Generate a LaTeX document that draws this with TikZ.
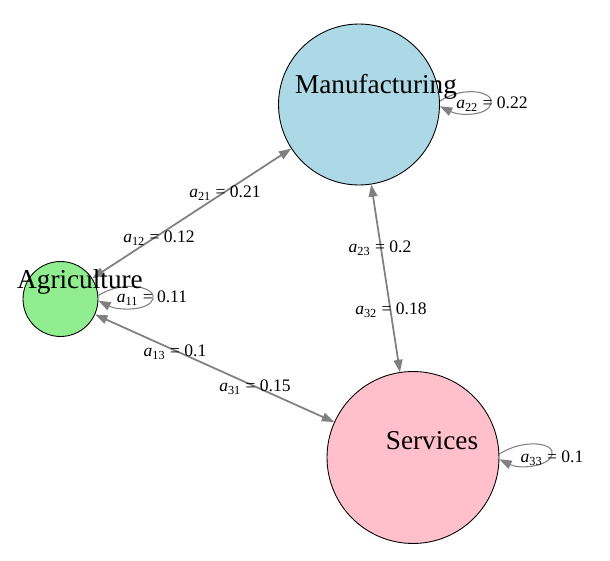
\documentclass[tikz,border=0pt]{standalone}
\usepackage{fontspec}
\setmainfont{Liberation Serif}
\usetikzlibrary{arrows.meta}
\definecolor{mfgblue}{HTML}{ADD8E6}
\definecolor{agrgreen}{HTML}{90EE90}
\definecolor{srvpink}{HTML}{FFC0CB}
\definecolor{edgegray}{HTML}{808080}
\newcommand{\coef}[2]{\textit{a}\textsubscript{#1} = #2}

\begin{document}
\begin{tikzpicture}[x=0.02cm, y=-0.02cm,
  sector/.style={circle, draw=black, line width=0.5pt, inner sep=0pt},
  sectorname/.style={font=\fontsize{15.5}{18}\selectfont, inner sep=0pt},
  coeflbl/.style={font=\fontsize{10}{12}\selectfont, inner sep=0pt},
  link/.style={draw=edgegray, line width=1pt, {Triangle[length=7pt,width=5pt]}-{Triangle[length=7pt,width=5pt]}},
  selfloop/.style={draw=edgegray, line width=0.6pt, -{Triangle[length=7pt,width=5pt]}}]
\useasboundingbox (0,0) rectangle (610,561);

% sectors
\node[sector, fill=mfgblue, minimum size=3.22cm] (man) at (359,104.5) {};
\node[sector, fill=agrgreen, minimum size=1.5cm] (agr) at (60.5,299) {};
\node[sector, fill=srvpink, minimum size=3.44cm] (ser) at (413,457.5) {};

% flows between sectors
\draw[link] (agr) -- (man);
\draw[link] (man) -- (ser);
\draw[link] (agr) -- (ser);

% own flows
\draw[selfloop] ([yshift=2pt]man.east) .. controls +(25,-16) and +(4,-12) .. (491,104)
  .. controls +(-4,12) and +(20,10) .. ([yshift=-1pt]man.east);
\draw[selfloop] ([yshift=2pt]agr.east) .. controls +(25,-16) and +(4,-12) .. (153,299)
  .. controls +(-4,12) and +(20,10) .. ([yshift=-1pt]agr.east);
\draw[selfloop] ([yshift=2pt]ser.east) .. controls +(25,-16) and +(4,-12) .. (552,455)
  .. controls +(-4,12) and +(20,10) .. ([yshift=-1pt]ser.east);

% sector names
\node[sectorname] (manlbl) at (376,87) {Manufacturing};
\node[sectorname] (agrlbl) at (80,282) {Agriculture};
\node[sectorname] (serlbl) at (432,441) {Services};

% coefficients
\node[coeflbl] (a21) at (225,193) {\coef{21}{0.21}};
\node[coeflbl] (a12) at (159,238) {\coef{12}{0.12}};
\node[coeflbl] (a23) at (380,248) {\coef{23}{0.2}};
\node[coeflbl] (a32) at (391,310) {\coef{32}{0.18}};
\node[coeflbl] (a13) at (175,352) {\coef{13}{0.1}};
\node[coeflbl] (a31) at (255,387) {\coef{31}{0.15}};
\node[coeflbl] (a22) at (492,104) {\coef{22}{0.22}};
\node[coeflbl] (a11) at (152,298) {\coef{11}{0.11}};
\node[coeflbl] (a33) at (552,458) {\coef{33}{0.1}};
\end{tikzpicture}
\end{document}
